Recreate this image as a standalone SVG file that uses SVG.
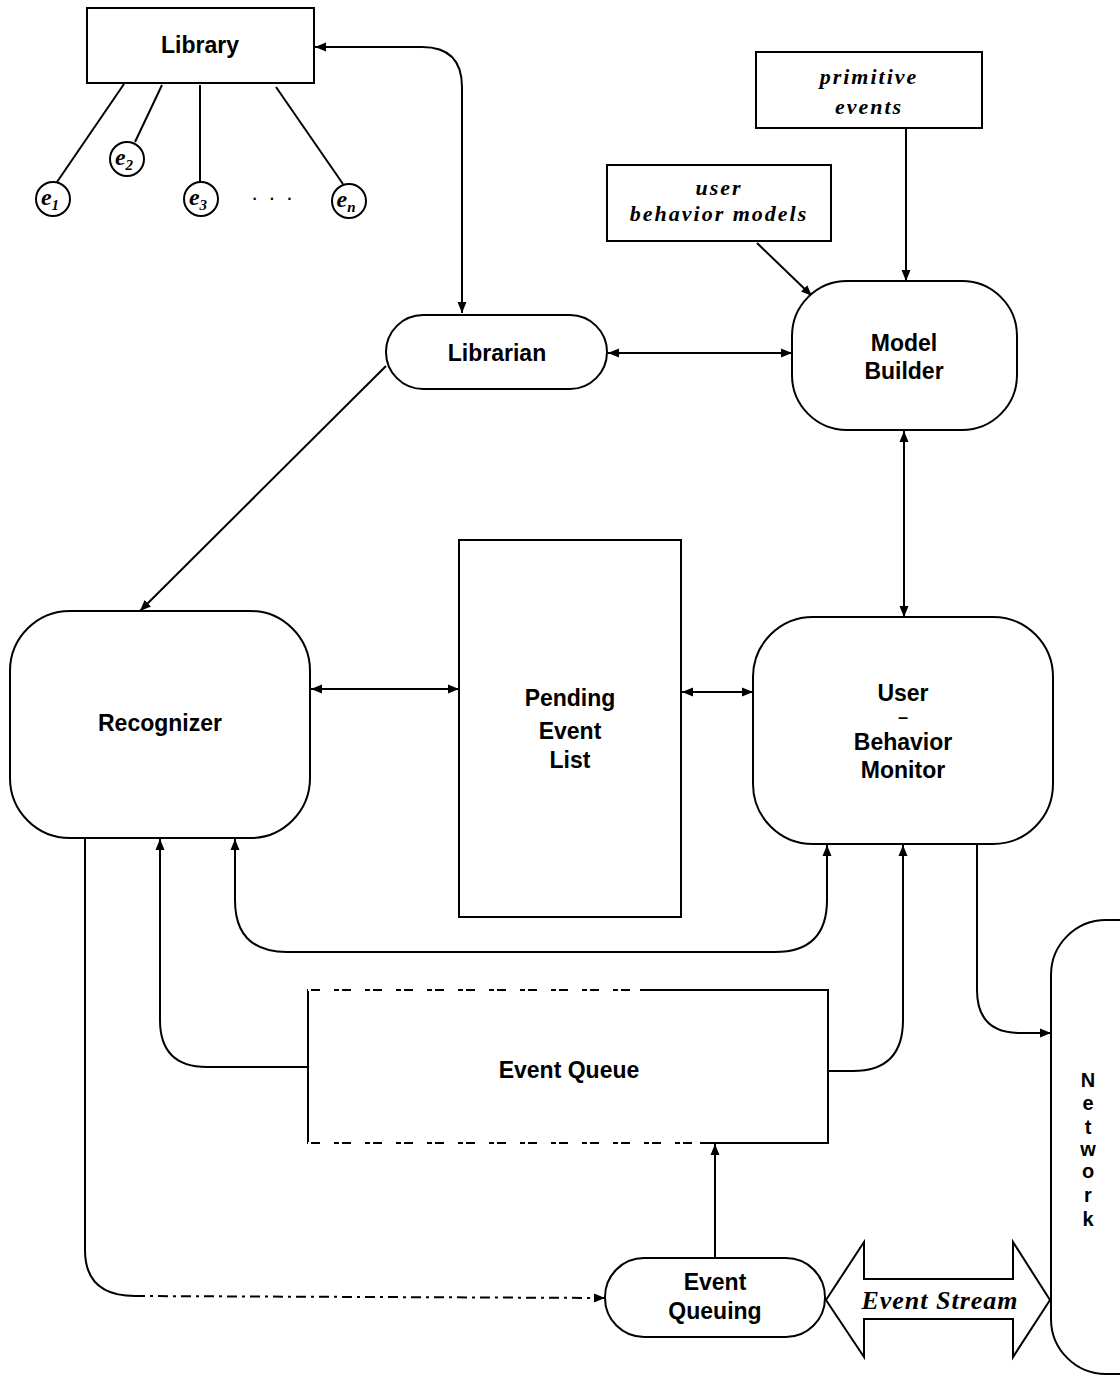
<svg xmlns="http://www.w3.org/2000/svg" width="1120" height="1377" viewBox="0 0 1120 1377">
<defs>
<marker id="ah" markerUnits="userSpaceOnUse" markerWidth="12" markerHeight="10" refX="11" refY="5" orient="auto-start-reverse"><path d="M0,0.5 L11,5 L0,9.5 Z" fill="#000"/></marker>
</defs>
<style>
.box{fill:#fff;stroke:#000;stroke-width:2}
.ln{fill:none;stroke:#000;stroke-width:2}
.lbl{font-family:"Liberation Sans",Arial,sans-serif;font-weight:bold;font-size:23px;text-anchor:middle;fill:#000}
.net{font-family:"Liberation Sans",Arial,sans-serif;font-weight:bold;font-size:20px;text-anchor:middle;fill:#000}
.it{font-family:"Liberation Serif","Times New Roman",serif;font-weight:bold;font-style:italic;font-size:22px;text-anchor:middle;letter-spacing:2px;fill:#000}
.ev{font-family:"Liberation Serif","Times New Roman",serif;font-style:italic;font-weight:bold;font-size:24px;text-anchor:middle;fill:#000}
</style>
<rect width="1120" height="1377" fill="#fff"/>
<g id="connectors">
<path class="ln" d="M124,84 L57,182"/>
<path class="ln" d="M162,85 L135,142"/>
<path class="ln" d="M200,85 L200,182"/>
<path class="ln" d="M276,87 L343,184"/>
<path class="ln" d="M462,313 L462,87 Q462,47 422,47 L315,47" marker-start="url(#ah)" marker-end="url(#ah)"/>
<path class="ln" d="M608,353 L792,353" marker-start="url(#ah)" marker-end="url(#ah)"/>
<path class="ln" d="M906,128 L906,281" marker-end="url(#ah)"/>
<path class="ln" d="M757,243 L812,296" marker-end="url(#ah)"/>
<path class="ln" d="M904,431 L904,617" marker-start="url(#ah)" marker-end="url(#ah)"/>
<path class="ln" d="M386,366 L140,611" marker-end="url(#ah)"/>
<path class="ln" d="M311,689 L459,689" marker-start="url(#ah)" marker-end="url(#ah)"/>
<path class="ln" d="M682,692 L753,692" marker-start="url(#ah)" marker-end="url(#ah)"/>
<path class="ln" d="M235,839 L235,900 Q235,952 287,952 L775,952 Q827,952 827,900 L827,845" marker-start="url(#ah)" marker-end="url(#ah)"/>
<path class="ln" d="M308,1067 L207,1067 Q160,1067 160,1020 L160,839" marker-end="url(#ah)"/>
<path class="ln" d="M828,1071 L853,1071 Q903,1071 903,1020 L903,845" marker-end="url(#ah)"/>
<path class="ln" d="M977,845 L977,990 Q977,1033 1020,1033 L1051,1033" marker-end="url(#ah)"/>
<path class="ln" d="M715,1258 L715,1144" marker-end="url(#ah)"/>
<path class="ln" d="M85,839 L85,1250 Q85,1296 135,1296"/>
<path class="ln" d="M135,1296 L605,1298" stroke-width="1.5" stroke-dasharray="10,5,3,5" marker-end="url(#ah)"/>
</g>
<g id="library"><rect class="box" x="87" y="8" width="227" height="75"/><text class="lbl" x="200" y="53">Library</text></g>
<g id="e1"><circle class="box" cx="53" cy="199" r="17"/><text class="ev" x="50" y="205">e<tspan style="font-size:15px" dy="5">1</tspan></text></g>
<g id="e2"><circle class="box" cx="127" cy="159" r="17"/><text class="ev" x="124" y="165">e<tspan style="font-size:15px" dy="5">2</tspan></text></g>
<g id="e3"><circle class="box" cx="201" cy="199" r="17"/><text class="ev" x="198" y="205">e<tspan style="font-size:15px" dy="5">3</tspan></text></g>
<g id="dots"><text class="lbl" x="273" y="205" style="font-weight:normal;font-size:22px;letter-spacing:2px">· · ·</text></g>
<g id="en"><circle class="box" cx="349" cy="201" r="17"/><text class="ev" x="346" y="207">e<tspan style="font-size:15px" dy="5">n</tspan></text></g>
<g id="primitive-events"><rect class="box" x="756" y="52" width="226" height="76"/><text class="it" x="869" y="84">primitive</text><text class="it" x="869" y="114">events</text></g>
<g id="user-behavior-models"><rect class="box" x="607" y="165" width="224" height="76"/><text class="it" x="719" y="195">user</text><text class="it" x="719" y="221">behavior models</text></g>
<g id="librarian"><rect class="box" x="386" y="315" width="221" height="74" rx="37"/><text class="lbl" x="497" y="361">Librarian</text></g>
<g id="model-builder"><rect class="box" x="792" y="281" width="225" height="149" rx="55"/><text class="lbl" x="904" y="351">Model</text><text class="lbl" x="904" y="379">Builder</text></g>
<g id="recognizer"><rect class="box" x="10" y="611" width="300" height="227" rx="60"/><text class="lbl" x="160" y="731">Recognizer</text></g>
<g id="pending-event-list"><rect class="box" x="459" y="540" width="222" height="377"/><text class="lbl" x="570" y="706">Pending</text><text class="lbl" x="570" y="739">Event</text><text class="lbl" x="570" y="768">List</text></g>
<g id="user-behavior-monitor"><rect class="box" x="753" y="617" width="300" height="227" rx="60"/><text class="lbl" x="903" y="701">User</text><text class="lbl" x="903" y="723" style="font-size:18px">–</text><text class="lbl" x="903" y="750">Behavior</text><text class="lbl" x="903" y="778">Monitor</text></g>
<g id="event-queue"><rect class="box" x="308" y="990" width="520" height="153"/><path d="M308,990 L640,990 M308,1143 L700,1143" stroke="#fff" stroke-width="2.2" stroke-dasharray="3,9,14,5"/><text class="lbl" x="569" y="1078">Event Queue</text></g>
<g id="event-queuing"><rect class="box" x="605" y="1258" width="220" height="79" rx="39"/><text class="lbl" x="715" y="1290">Event</text><text class="lbl" x="715" y="1319">Queuing</text></g>
<g id="event-stream"><polygon class="box" points="826,1300 864,1242 864,1279 1013,1279 1013,1242 1050,1300 1013,1357 1013,1319 864,1319 864,1357"/><text class="ev" x="940" y="1309" style="font-size:26px;letter-spacing:1px">Event Stream</text></g>
<g id="network"><rect class="box" x="1051" y="920" width="160" height="454" rx="55"/>
<text class="net" x="1088" y="1087">N</text><text class="net" x="1088" y="1110">e</text><text class="net" x="1088" y="1134">t</text><text class="net" x="1088" y="1156">w</text><text class="net" x="1088" y="1178">o</text><text class="net" x="1088" y="1202">r</text><text class="net" x="1088" y="1226">k</text></g>
</svg>
